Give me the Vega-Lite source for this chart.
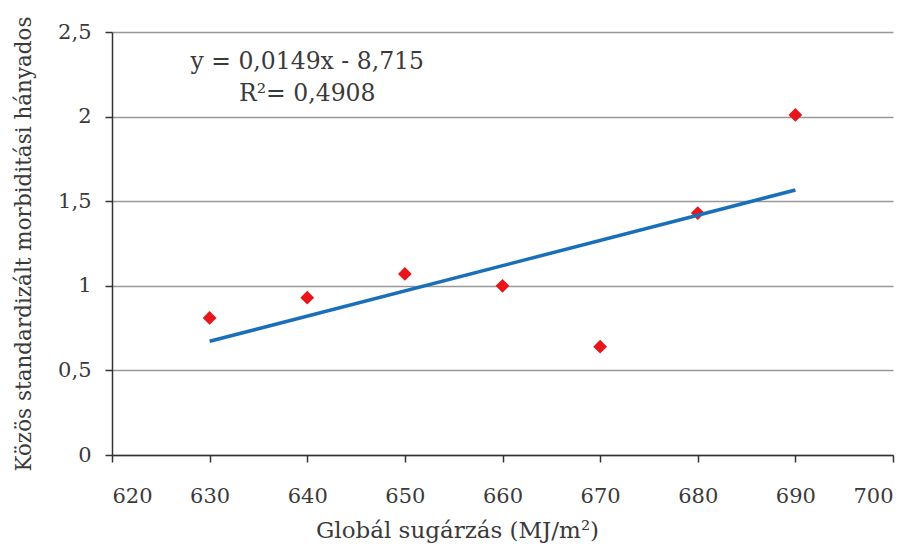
{
  "$schema": "https://vega.github.io/schema/vega-lite/v6.json",
  "autosize": "none",
  "width": 781,
  "height": 423,
  "padding": {"left": 112, "top": 32, "right": 23, "bottom": 96},
  "background": "white",
  "config": {
    "view": {"stroke": null},
    "font": "DejaVu Serif",
    "axis": {
      "labelFont": "DejaVu Serif",
      "titleFont": "DejaVu Serif",
      "labelFontSize": 21,
      "titleFontSize": 21.5,
      "labelColor": "#3a3a3a",
      "titleColor": "#3a3a3a",
      "titleFontWeight": "normal",
      "domainColor": "#333333",
      "domainWidth": 1.5,
      "tickColor": "#333333",
      "tickWidth": 1.5,
      "tickSize": 7
    }
  },
  "datasets": {
    "points": [
      {"x": 630, "y": 0.81},
      {"x": 640, "y": 0.93},
      {"x": 650, "y": 1.07},
      {"x": 660, "y": 1.0},
      {"x": 670, "y": 0.64},
      {"x": 680, "y": 1.43},
      {"x": 690, "y": 2.01}
    ],
    "trend": [
      {"x": 630, "y": 0.672},
      {"x": 690, "y": 1.566}
    ],
    "notes": [
      {"x": 640, "y": 2.32, "label": "y = 0,0149x - 8,715"},
      {"x": 640, "y": 2.135, "label": "R²= 0,4908"}
    ]
  },
  "layer": [
    {
      "data": {"name": "points"},
      "mark": {"type": "point", "shape": "diamond", "filled": true, "size": 190, "color": "#e8161b", "opacity": 1},
      "encoding": {
        "x": {
          "field": "x", "type": "quantitative",
          "scale": {"domain": [620, 700], "nice": false, "zero": false},
          "axis": {
            "values": [620, 630, 640, 650, 660, 670, 680, 690, 700],
            "grid": false,
            "title": "Globál sugárzás (MJ/m²)",
            "titleX": 345,
            "titleFontSize": 23,
            "titlePadding": 13,
            "labelPadding": 23
          }
        },
        "y": {
          "field": "y", "type": "quantitative",
          "scale": {"domain": [0, 2.5], "nice": false},
          "axis": {
            "values": [0, 0.5, 1, 1.5, 2, 2.5],
            "labelExpr": "replace(format(datum.value, '~g'), '.', ',')",
            "grid": true,
            "gridColor": "#999999",
            "gridWidth": 1.5,
            "title": "Közös standardizált morbiditási hányados",
            "titlePadding": 22,
            "labelPadding": 14
          }
        }
      }
    },
    {
      "data": {"name": "trend"},
      "mark": {"type": "line", "color": "#1a6fba", "strokeWidth": 3.5},
      "encoding": {
        "x": {"field": "x", "type": "quantitative"},
        "y": {"field": "y", "type": "quantitative"}
      }
    },
    {
      "data": {"name": "notes"},
      "mark": {"type": "text", "font": "DejaVu Serif", "fontSize": 23.5, "color": "#3a3a3a", "align": "center", "baseline": "middle"},
      "encoding": {
        "x": {"field": "x", "type": "quantitative"},
        "y": {"field": "y", "type": "quantitative"},
        "text": {"field": "label"}
      }
    }
  ]
}
